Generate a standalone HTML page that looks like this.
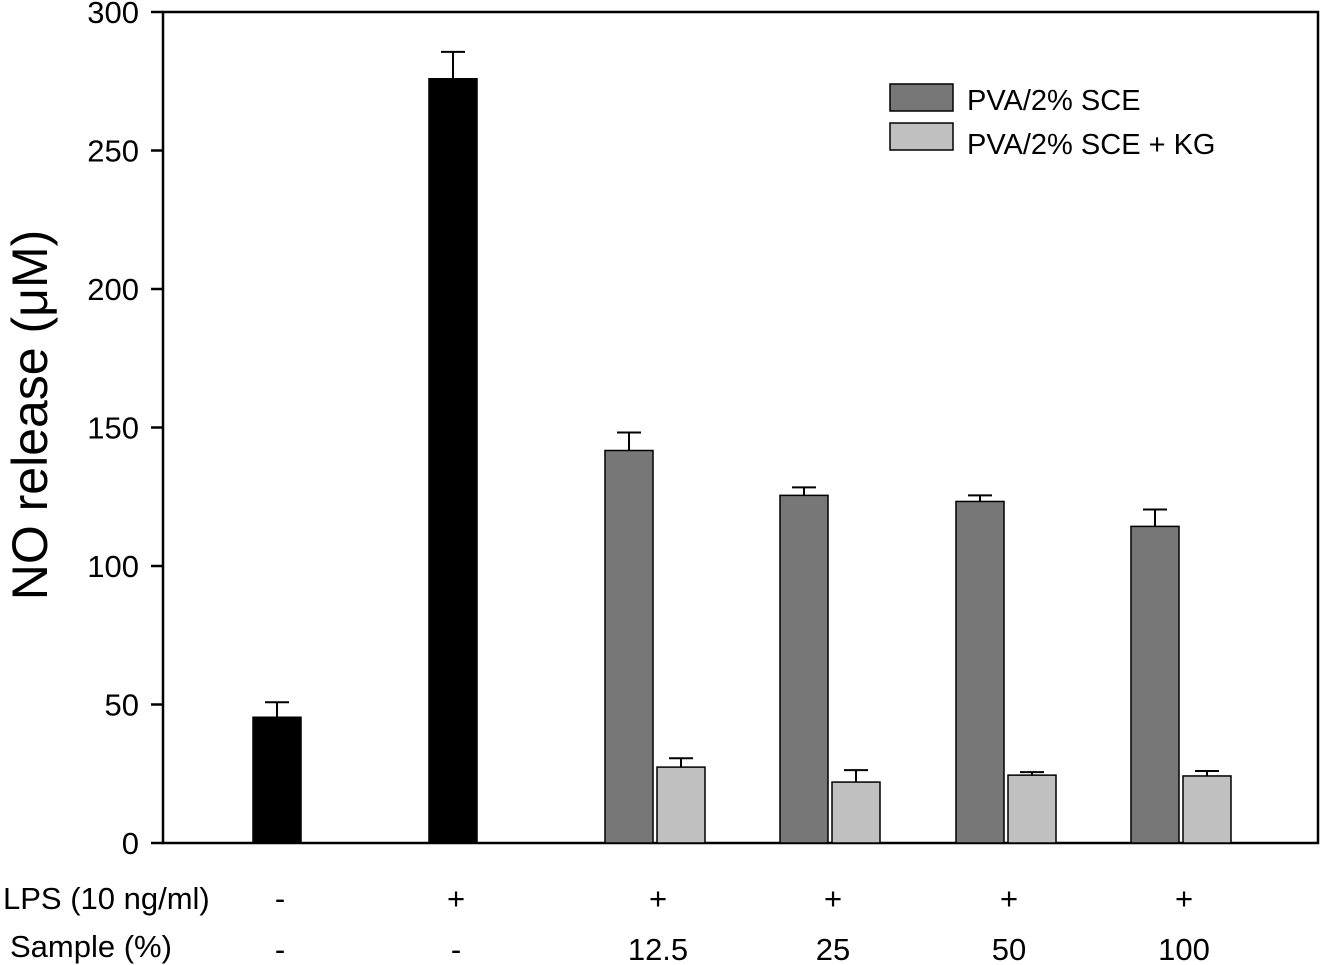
<!DOCTYPE html>
<html><head><meta charset="utf-8"><style>
html,body{margin:0;padding:0;background:#fff;}
svg{display:block;font-family:"Liberation Sans",Arial,sans-serif;}
</style></head><body>
<svg id="chart" width="1323" height="965" xmlns="http://www.w3.org/2000/svg">
<g id="axes"></g>
<g id="bars"></g>
<g id="legend">
 <rect x="890" y="84" width="63" height="27" fill="#777" stroke="#000" stroke-width="1.5"/>
 <text x="967" y="110" font-size="29">PVA/2% SCE</text>
 <rect x="890" y="123" width="63" height="27" fill="#c0c0c0" stroke="#000" stroke-width="1.5"/>
 <text x="967" y="154" font-size="29">PVA/2% SCE + KG</text>
</g>
<text x="47" y="415" font-size="50" text-anchor="middle" transform="rotate(-90 47 415)">NO release (μM)</text>
</svg>
<script>
const yTicks=[0,50,100,150,200,250,300];
const controlValues=[45.4,275.9];
const controlErrors=[5.4,9.7];
const sceValues=[141.7,125.5,123.3,114.3];
const sceErrors=[6.5,2.9,2.2,6.1];
const kgValues=[27.4,22,24.5,24.2];
const kgErrors=[3.2,4.3,1.1,1.8];
const lpsLabels=["-","+","+","+","+","+"];
const sampleLabels=["-","-","12.5","25","50","100"];
const NS="http://www.w3.org/2000/svg";
const X0=163,X1=1318,Y0=843,Y1=12;
function y(v){return Y0-(v/300)*(Y0-Y1);}
const groupCenters=[277,453,655,830,1006,1181];
function mk(tag,attrs,parent){const e=document.createElementNS(NS,tag);for(const k in attrs)e.setAttribute(k,attrs[k]);parent.appendChild(e);return e;}
const axes=document.getElementById('axes'),bars=document.getElementById('bars');
let fr=mk('rect',{x:X0,y:Y1,width:X1-X0,height:Y0-Y1,fill:'none',stroke:'#000','stroke-width':2.5},axes);


yTicks.forEach(t=>{
 let l=mk('line',{x1:151,x2:X0,y1:y(t),y2:y(t),stroke:'#000','stroke-width':2.5},axes);
 
 
 let tx=mk('text',{x:139,y:y(t)+11,'font-size':31,'text-anchor':'end'},axes);tx.textContent=t;
 
 
});
function bar(cx,v,e,fill,name){
 const w=48;
 let r=mk('rect',{x:cx-w/2,y:y(v),width:w,height:Y0-y(v),fill:fill,stroke:'#000','stroke-width':1.5},bars);
 
 
 let el=mk('path',{d:`M${cx} ${y(v)}V${y(v+e)}M${cx-12} ${y(v+e)}H${cx+12}`,stroke:'#000','stroke-width':2,fill:'none'},bars);
 
 
}
controlValues.forEach((v,i)=>bar(groupCenters[i],v,controlErrors[i],'#000','bar-control-'+i));
sceValues.forEach((v,i)=>bar(groupCenters[i+2]-26,v,sceErrors[i],'#777','bar-sce-'+i));
kgValues.forEach((v,i)=>bar(groupCenters[i+2]+26,v,kgErrors[i],'#c0c0c0','bar-sce-kg-'+i));
let r1=mk('text',{x:3,y:909,'font-size':31},axes);r1.textContent='LPS (10 ng/ml)';


let r2=mk('text',{x:10,y:957,'font-size':31},axes);r2.textContent='Sample (%)';


groupCenters.forEach((c,i)=>{
 let a=mk('text',{x:c+3,y:909,'font-size':31,'text-anchor':'middle'},axes);a.textContent=lpsLabels[i];
 
 
 let b=mk('text',{x:c+3,y:960,'font-size':31,'text-anchor':'middle'},axes);b.textContent=sampleLabels[i];
 
 
});
</script>
</body></html>
